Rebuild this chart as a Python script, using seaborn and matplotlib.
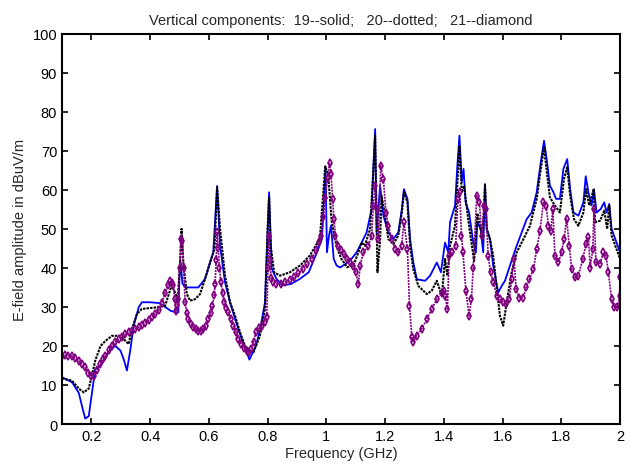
import numpy as np
import pandas as pd
import seaborn as sns
import matplotlib.pyplot as plt

# component 19 (solid)
freq_19 = [0.100, 0.134, 0.157, 0.170, 0.179, 0.191, 0.202, 0.213, 0.231, 0.248,
           0.265, 0.282, 0.299, 0.310, 0.321, 0.333, 0.344, 0.361, 0.372, 0.400,
           0.430, 0.451, 0.470, 0.490, 0.496, 0.500, 0.504, 0.510, 0.520, 0.564,
           0.587, 0.604, 0.615, 0.623, 0.628, 0.638, 0.655, 0.672, 0.689, 0.712,
           0.738, 0.760, 0.775, 0.791, 0.805, 0.814, 0.830, 0.850, 0.880, 0.910,
           0.940, 0.968, 0.985, 0.997, 1.002, 1.009, 1.016, 1.025, 1.035, 1.047,
           1.080, 1.103, 1.120, 1.137, 1.154, 1.166, 1.171, 1.183, 1.194, 1.211,
           1.228, 1.245, 1.257, 1.264, 1.276, 1.285, 1.296, 1.308, 1.336, 1.353,
           1.376, 1.390, 1.404, 1.415, 1.421, 1.438, 1.446, 1.453, 1.461, 1.467,
           1.474, 1.486, 1.500, 1.509, 1.514, 1.525, 1.534, 1.540, 1.546, 1.557,
           1.568, 1.585, 1.597, 1.608, 1.625, 1.648, 1.665, 1.682, 1.699, 1.716,
           1.730, 1.741, 1.750, 1.761, 1.773, 1.782, 1.795, 1.807, 1.820, 1.830,
           1.841, 1.858, 1.875, 1.883, 1.892, 1.903, 1.911, 1.920, 1.934, 1.946,
           1.954, 1.963, 1.971, 1.988, 2.000]
e_19 = [12.0, 10.7, 8.0, 4.0, 1.4, 2.0, 8.1, 14.0, 15.0, 17.0,
        19.2, 20.0, 18.8, 16.6, 13.7, 19.2, 25.2, 29.9, 31.2, 31.2,
        31.0, 30.0, 29.0, 28.6, 28.6, 38.0, 41.4, 36.0, 35.0, 35.0,
        37.2, 41.4, 44.0, 54.3, 61.0, 45.7, 36.3, 31.2, 26.9, 21.8,
        16.5, 20.0, 24.4, 31.2, 59.4, 39.8, 37.2, 35.5, 35.9, 37.2,
        38.9, 44.0, 47.4, 66.0, 44.0, 48.3, 50.9, 42.3, 40.6, 40.1,
        41.8, 44.0, 46.5, 49.1, 55.1, 75.6, 49.1, 61.1, 53.4, 49.1,
        47.4, 49.1, 55.1, 60.2, 57.7, 47.4, 41.4, 37.1, 36.7, 38.0,
        41.4, 38.9, 46.5, 44.0, 51.7, 56.0, 66.2, 73.9, 62.0, 65.4,
        56.8, 54.2, 46.5, 44.0, 51.7, 50.0, 44.0, 61.5, 50.0, 47.4,
        40.6, 33.7, 35.4, 36.7, 40.6, 45.7, 49.1, 52.5, 54.2, 59.4,
        67.1, 72.6, 67.9, 61.1, 59.4, 57.7, 57.7, 65.4, 67.9, 60.2,
        54.2, 53.4, 56.8, 63.5, 59.4, 56.0, 60.2, 54.2, 55.1, 56.8,
        54.2, 56.4, 50.0, 46.5, 44.0]

# component 20 (dotted)
freq_20 = [0.100, 0.134, 0.157, 0.174, 0.191, 0.202, 0.213, 0.231, 0.248, 0.270,
           0.299, 0.316, 0.327, 0.338, 0.355, 0.372, 0.423, 0.451, 0.473, 0.485,
           0.494, 0.502, 0.507, 0.513, 0.525, 0.536, 0.553, 0.570, 0.587, 0.604,
           0.619, 0.628, 0.638, 0.655, 0.672, 0.689, 0.706, 0.723, 0.740, 0.752,
           0.774, 0.791, 0.800, 0.805, 0.810, 0.822, 0.842, 0.876, 0.910, 0.944,
           0.978, 0.996, 1.006, 1.018, 1.035, 1.050, 1.070, 1.092, 1.109, 1.120,
           1.131, 1.149, 1.166, 1.174, 1.183, 1.188, 1.200, 1.211, 1.228, 1.245,
           1.257, 1.264, 1.276, 1.285, 1.296, 1.313, 1.342, 1.359, 1.376, 1.393,
           1.404, 1.412, 1.421, 1.438, 1.453, 1.461, 1.469, 1.480, 1.489, 1.503,
           1.514, 1.523, 1.532, 1.540, 1.546, 1.557, 1.568, 1.579, 1.591, 1.602,
           1.614, 1.631, 1.648, 1.671, 1.693, 1.716, 1.730, 1.741, 1.752, 1.761,
           1.778, 1.795, 1.809, 1.820, 1.830, 1.843, 1.858, 1.875, 1.884, 1.895,
           1.910, 1.915, 1.932, 1.946, 1.956, 1.963, 1.971, 1.988, 2.000]
e_20 = [11.7, 11.1, 9.1, 8.1, 9.1, 12.4, 16.2, 20.0, 21.3, 22.6,
        22.6, 21.3, 20.5, 24.3, 28.2, 29.5, 29.9, 30.3, 35.5, 33.7,
        32.0, 41.4, 50.0, 41.4, 33.3, 31.6, 32.0, 33.3, 37.2, 41.4,
        44.9, 60.7, 50.0, 38.0, 31.2, 27.8, 23.5, 20.0, 18.8, 18.4,
        22.7, 29.5, 50.0, 58.0, 46.0, 38.9, 38.0, 38.9, 40.6, 43.2,
        47.5, 66.0, 64.0, 52.0, 45.5, 42.5, 40.2, 40.6, 44.0, 46.5,
        45.7, 50.0, 73.9, 38.9, 47.4, 58.5, 53.4, 47.4, 46.1, 48.3,
        54.2, 59.4, 56.8, 45.7, 39.7, 35.4, 33.3, 34.2, 36.7, 32.9,
        42.3, 38.0, 45.7, 50.8, 71.3, 59.4, 61.1, 54.2, 49.1, 41.8,
        54.0, 50.8, 47.4, 61.5, 50.0, 47.4, 43.1, 35.4, 27.7, 25.2,
        31.2, 38.9, 44.0, 47.4, 50.8, 57.7, 65.4, 70.9, 63.7, 58.1,
        56.0, 54.2, 62.8, 65.8, 58.5, 52.5, 50.8, 54.2, 60.2, 56.0,
        60.2, 51.7, 52.1, 54.7, 50.0, 56.0, 48.3, 44.8, 42.3]

# component 21 (diamond)
freq_21 = [0.100, 0.110, 0.120, 0.134, 0.145, 0.157, 0.168, 0.179, 0.190, 0.200,
           0.210, 0.220, 0.231, 0.240, 0.248, 0.260, 0.270, 0.282, 0.293, 0.305,
           0.316, 0.327, 0.338, 0.350, 0.361, 0.372, 0.384, 0.395, 0.406, 0.417,
           0.430, 0.440, 0.451, 0.460, 0.468, 0.474, 0.479, 0.484, 0.487, 0.492,
           0.496, 0.501, 0.505, 0.510, 0.514, 0.519, 0.525, 0.530, 0.540, 0.547,
           0.556, 0.564, 0.572, 0.581, 0.590, 0.598, 0.606, 0.612, 0.618, 0.621,
           0.625, 0.628, 0.632, 0.636, 0.641, 0.647, 0.653, 0.660, 0.666, 0.675,
           0.683, 0.692, 0.700, 0.710, 0.720, 0.730, 0.738, 0.745, 0.752, 0.760,
           0.770, 0.781, 0.790, 0.797, 0.801, 0.804, 0.808, 0.812, 0.818, 0.830,
           0.845, 0.860, 0.875, 0.890, 0.905, 0.920, 0.935, 0.950, 0.965, 0.975,
           0.983, 0.990, 0.996, 1.004, 1.011, 1.016, 1.021, 1.026, 1.031, 1.040,
           1.050, 1.060, 1.070, 1.080, 1.090, 1.100, 1.109, 1.115, 1.126, 1.143,
           1.154, 1.160, 1.166, 1.171, 1.177, 1.185, 1.194, 1.203, 1.211, 1.222,
           1.234, 1.245, 1.256, 1.264, 1.276, 1.283, 1.291, 1.296, 1.307, 1.324,
           1.342, 1.359, 1.376, 1.393, 1.400, 1.404, 1.412, 1.418, 1.429, 1.440,
           1.448, 1.454, 1.460, 1.465, 1.475, 1.486, 1.494, 1.500, 1.512, 1.521,
           1.529, 1.537, 1.543, 1.551, 1.559, 1.568, 1.580, 1.591, 1.602, 1.612,
           1.623, 1.631, 1.639, 1.646, 1.657, 1.671, 1.680, 1.691, 1.705, 1.716,
           1.727, 1.739, 1.748, 1.756, 1.764, 1.771, 1.778, 1.790, 1.801, 1.809,
           1.818, 1.827, 1.835, 1.846, 1.858, 1.873, 1.884, 1.892, 1.898, 1.907,
           1.911, 1.918, 1.932, 1.943, 1.952, 1.960, 1.971, 1.979, 1.991, 1.998,
           2.000]
e_21 = [17.5, 17.6, 17.5, 17.4, 16.8, 16.2, 15.3, 14.5, 13.2, 12.2,
        12.3, 13.8, 15.4, 16.6, 17.5, 19.0, 20.0, 21.0, 21.8, 22.4,
        23.0, 23.5, 23.9, 24.4, 24.8, 25.4, 26.0, 26.6, 27.3, 28.2,
        29.2, 31.0, 33.7, 35.5, 36.7, 36.2, 35.5, 32.0, 29.0, 30.5,
        32.0, 40.0, 47.4, 47.0, 40.0, 31.2, 28.5, 26.9, 25.6, 24.8,
        24.3, 23.9, 23.9, 24.3, 25.2, 26.9, 28.5, 30.3, 33.0, 35.9,
        42.0, 49.1, 45.0, 40.0, 36.3, 33.5, 31.2, 29.8, 28.6, 26.9,
        25.2, 23.5, 21.8, 20.5, 19.5, 18.8, 18.4, 19.2, 21.0, 23.5,
        24.5, 25.2, 26.2, 27.5, 40.0, 48.3, 42.0, 37.5, 36.3, 35.9,
        36.0, 36.4, 36.8, 37.6, 38.6, 39.8, 41.0, 42.3, 44.5, 46.6,
        48.3, 53.0, 58.0, 63.0, 67.0, 64.0, 57.7, 52.5, 48.3, 45.7,
        44.5, 43.5, 42.3, 41.4, 40.6, 39.0, 35.9, 40.6, 44.0, 45.7,
        48.3, 56.0, 61.1, 55.1, 47.4, 66.2, 62.8, 54.2, 50.8, 47.4,
        44.8, 44.0, 45.7, 51.7, 44.8, 30.3, 22.2, 20.9, 22.6, 24.3,
        26.9, 29.5, 32.0, 33.7, 34.2, 32.9, 29.5, 43.1, 44.0, 45.7,
        57.7, 59.4, 48.3, 44.0, 34.2, 27.7, 32.0, 40.1, 58.5, 56.8,
        48.3, 56.0, 55.1, 43.1, 38.9, 36.3, 32.9, 32.0, 31.2, 30.7,
        32.0, 37.1, 42.3, 34.6, 32.4, 32.4, 35.0, 37.1, 39.7, 44.8,
        49.5, 56.8, 56.0, 50.8, 49.5, 55.1, 43.1, 41.4, 44.0, 47.4,
        52.5, 45.7, 39.7, 37.6, 38.0, 42.3, 46.1, 47.9, 40.1, 44.8,
        55.1, 41.4, 41.0, 44.0, 43.1, 38.9, 32.0, 29.9, 29.9, 32.9,
        37.6]

x_ticks = [0.2, 0.4, 0.6, 0.8, 1.0, 1.2, 1.4, 1.6, 1.8, 2.0]
x_tick_labels = ["0.2", "0.4", "0.6", "0.8", "1", "1.2", "1.4", "1.6", "1.8", "2"]
y_ticks = list(range(0, 101, 10))

sns.set_style("ticks")
plt.rcParams["font.family"] = ["Liberation Sans", "DejaVu Sans"]

df19 = pd.DataFrame({"freq": freq_19, "amp": e_19})
df20 = pd.DataFrame({"freq": freq_20, "amp": e_20})
df21 = pd.DataFrame({"freq": freq_21, "amp": e_21})

fig = plt.figure(figsize=(6.36, 4.77), dpi=100)
ax = fig.add_axes([0.0975, 0.109, 0.8775, 0.818])

sns.lineplot(data=df19, x="freq", y="amp", sort=False, estimator=None,
             color="#0000ff", linewidth=1.3, ax=ax)
sns.lineplot(data=df20, x="freq", y="amp", sort=False, estimator=None,
             color="black", linewidth=1.5, linestyle=(0, (1.2, 0.5)), ax=ax)
sns.lineplot(data=df21, x="freq", y="amp", sort=False, estimator=None,
             color="#800080", linewidth=1.2, linestyle=(0, (1.2, 0.6)),
             marker="d", markersize=3.8, markerfacecolor="none",
             markeredgecolor="#800080", markeredgewidth=1.2, ax=ax)

ax.set_xlim(0.1, 2.0)
ax.set_ylim(0, 100)
ax.set_xticks(x_ticks)
ax.set_xticklabels(x_tick_labels)
ax.set_yticks(y_ticks)
ax.tick_params(direction="in", top=True, right=True, length=4, width=1.2,
               labelsize=10.5, colors="black")
for s in ax.spines.values():
    s.set_visible(True)
    s.set_linewidth(1.5)
    s.set_color("black")

ax.set_xlabel("Frequency (GHz)", fontsize=10.5, labelpad=2)
ax.set_ylabel("E-field amplitude in dBuV/m", fontsize=10.5, labelpad=4)
ax.set_title("Vertical components:  19--solid;   20--dotted;   21--diamond",
             fontsize=10.5, pad=7)

fig.savefig("out.png", dpi=100)
